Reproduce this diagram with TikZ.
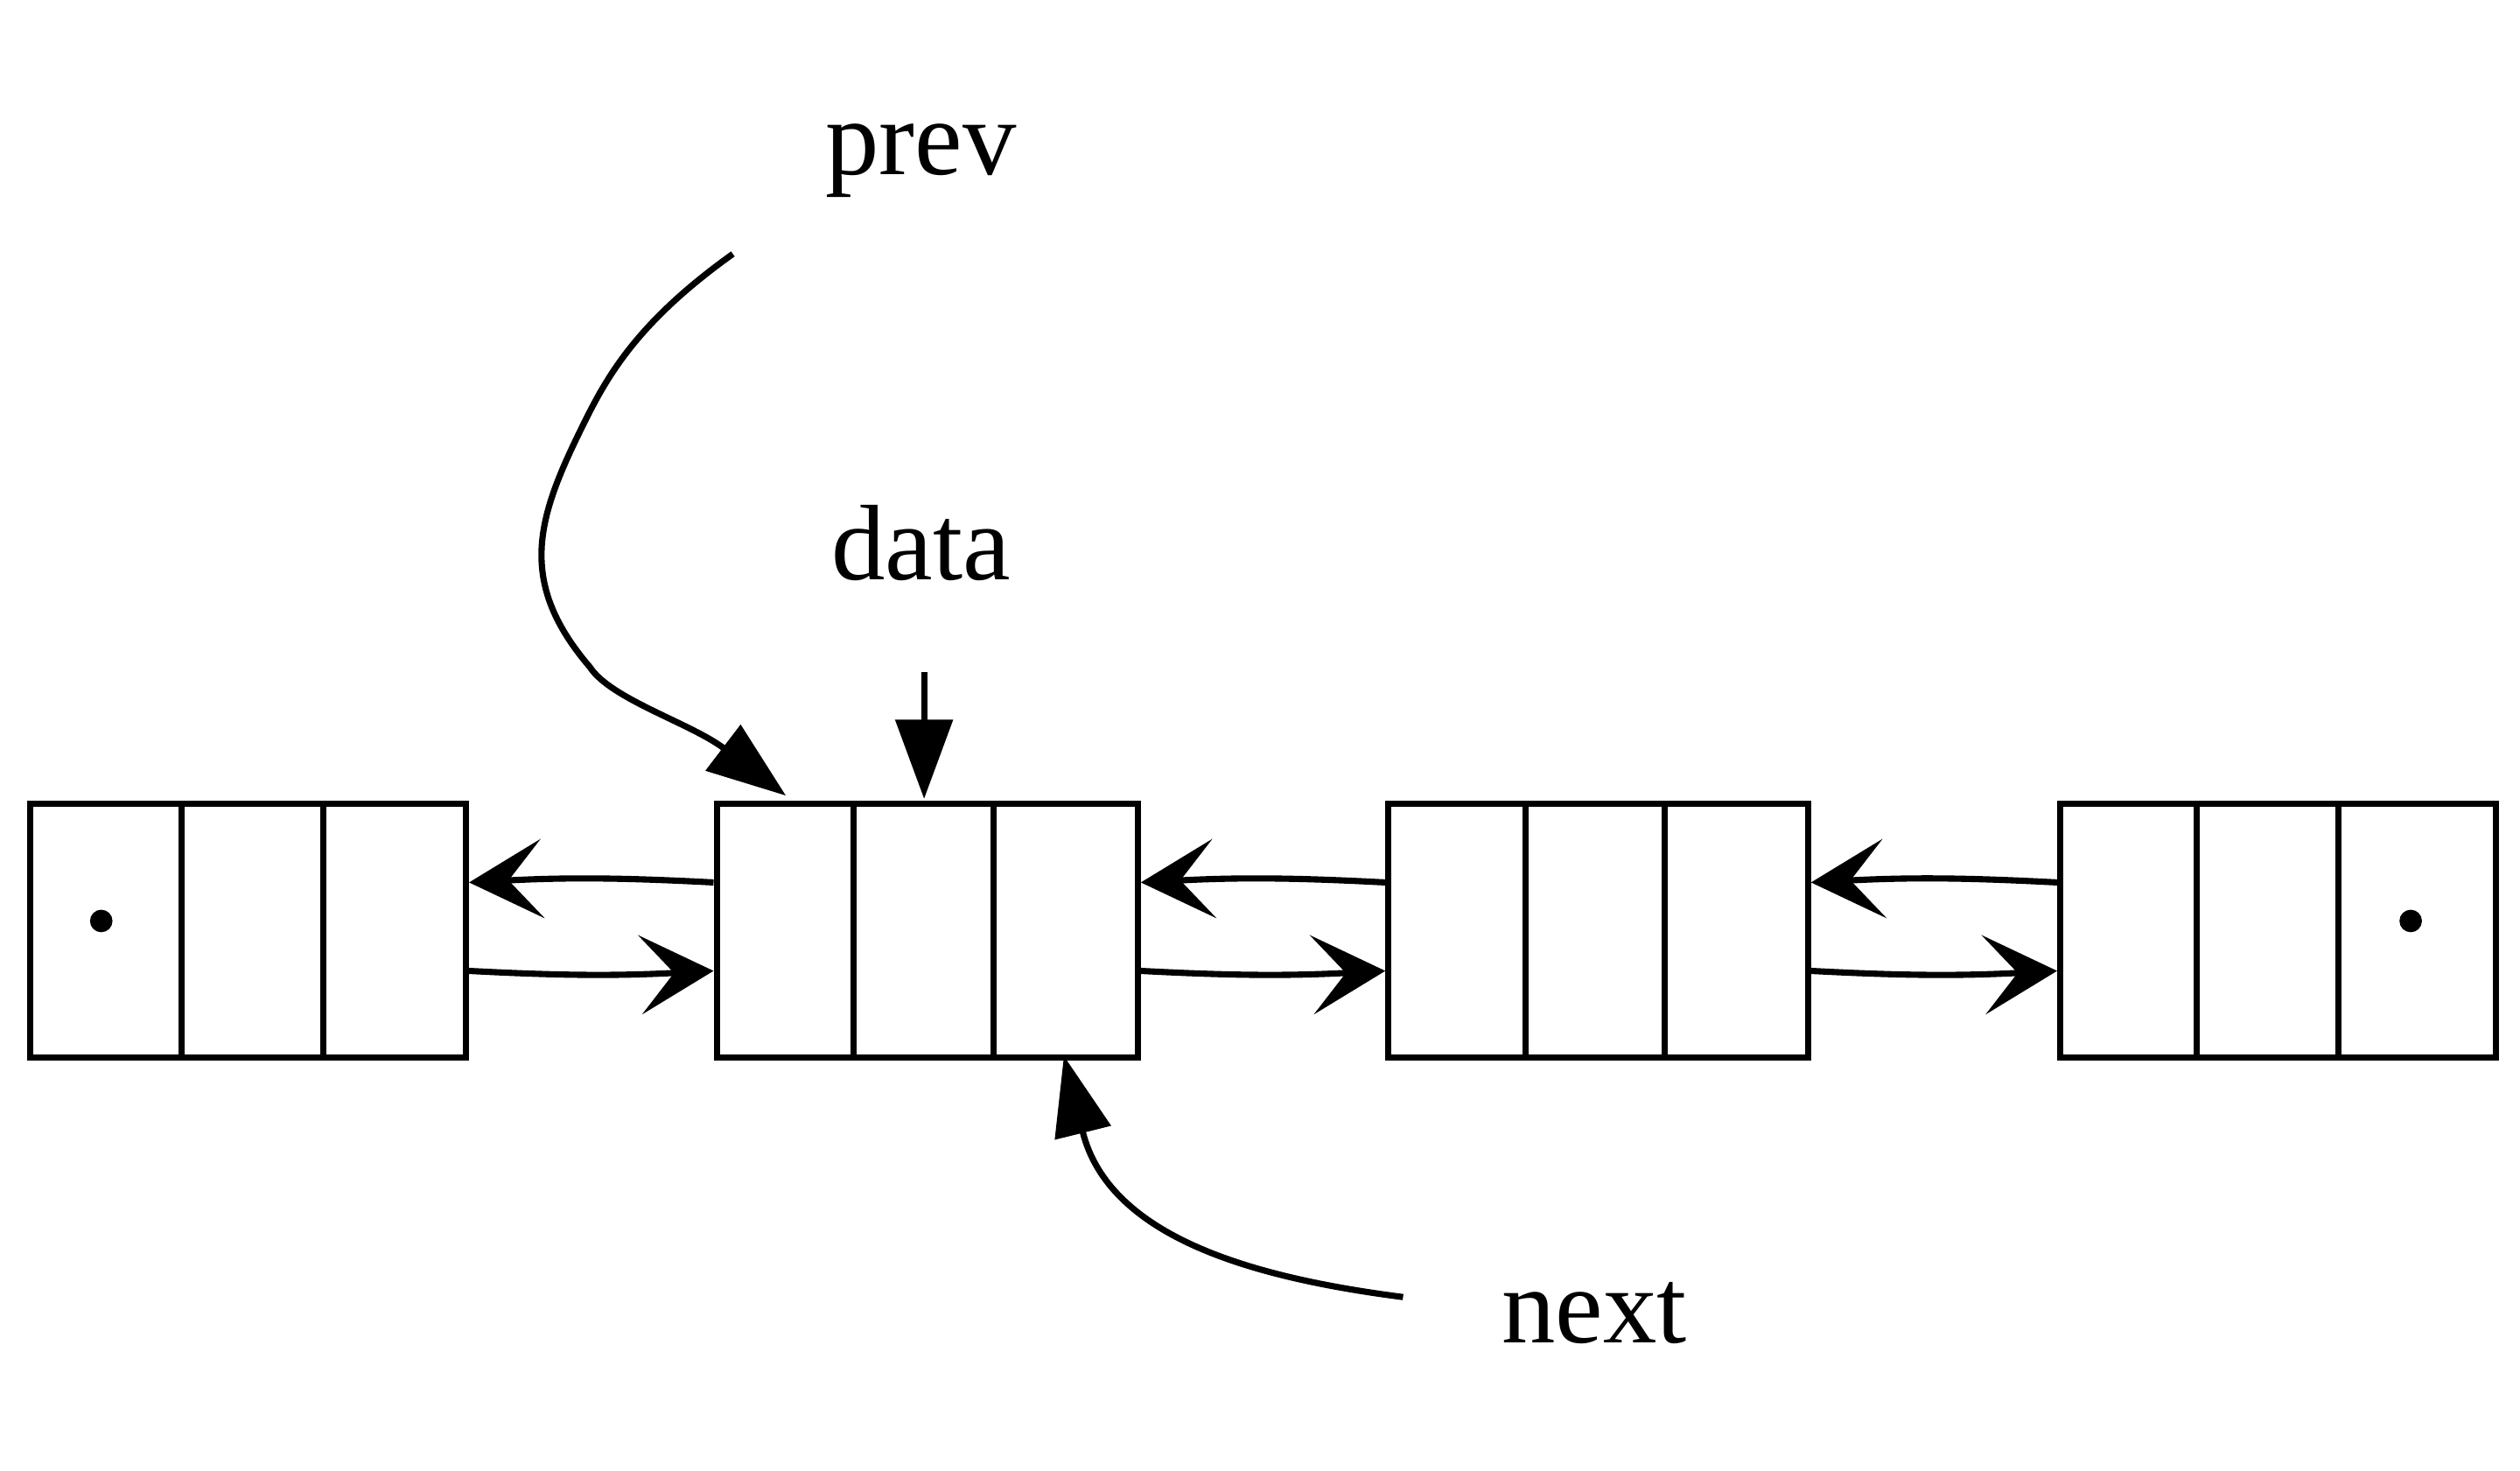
\documentclass[tikz,border=0pt]{standalone}
\usepackage{fontspec}
\setmainfont{Liberation Serif}
\usetikzlibrary{arrows.meta}
\begin{document}
\begin{tikzpicture}[x=0.01cm,y=-0.01cm,line width=1.1pt,
  box/.style={draw,rectangle,minimum width=#1*0.01cm,minimum height=1.58cm,inner sep=0,anchor=north west},
  lab/.style={font=\fontsize{19}{22}\selectfont},
  link/.style={-{Stealth[length=13pt,width=14pt,inset=6pt]}},
  big/.style={-{Triangle[length=14pt,width=10pt]}}]
\useasboundingbox (0,0) rectangle (1568,915);
\node[box=271] (b1) at (17,498) {};
\node[box=262] (b2) at (444,498) {};
\node[box=261] (b3) at (862,498) {};
\node[box=271] (b4) at (1280,498) {};
\foreach \x in {113,201,531,618,949,1036,1367,1455}{\draw (\x,498) -- (\x,656);}
\fill (63,573) circle (7);
\fill (1500,573) circle (7);
% links
\foreach \a/\b in {b1/b2,b2/b3,b3/b4}{
  \draw[link] ([yshift=-0.51cm]\b.north west) to[bend right=3] ([yshift=-0.51cm]\a.north east);
  \draw[link] ([yshift=-1.06cm]\a.north east) to[bend right=3] ([yshift=-1.06cm]\b.north west);
}
\node[lab] (prev) at (573,100) {prev};
\node[lab] (data) at (573,338) {data};
\node[lab] (next) at (992,817) {next};
\coordinate (ps) at (456,158);
\coordinate (ds) at (575,418);
\coordinate (ns) at (873,807);
\draw[big] (ps) .. controls (400,198) and (380,230) .. (365,260) .. controls (335,320) and (320,360) .. (367,415) .. controls (380,435) and (430,450) .. (489,495);
\draw[big] (ds) -- (575,497);
\draw[big] (ns) .. controls (780,795) and (690,770) .. (662,657);
\end{tikzpicture}
\end{document}
